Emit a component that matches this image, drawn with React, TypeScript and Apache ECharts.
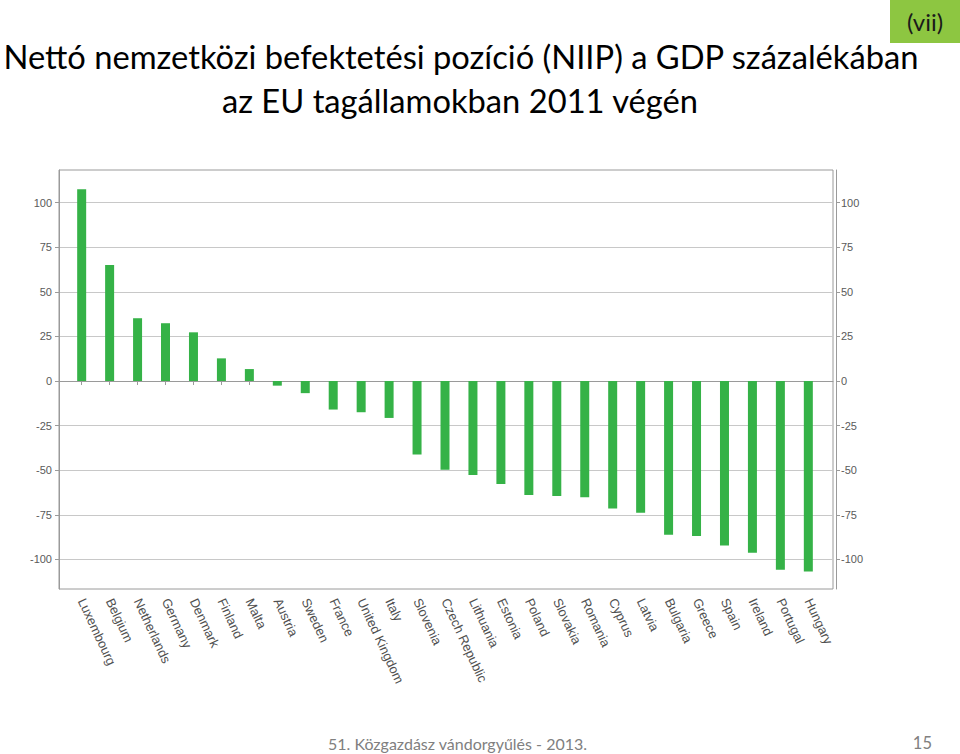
import React, { useEffect, useRef } from "react";
import * as echarts from "echarts";

const categories = [
  "Luxembourg", "Belgium", "Netherlands", "Germany", "Denmark", "Finland", "Malta",
  "Austria", "Sweden", "France", "United Kingdom", "Italy", "Slovenia", "Czech Republic",
  "Lithuania", "Estonia", "Poland", "Slovakia", "Romania", "Cyprus", "Latvia",
  "Bulgaria", "Greece", "Spain", "Ireland", "Portugal", "Hungary",
];
const niipValues = [
  107.5, 65.1, 35.2, 32.4, 27.3, 12.7, 6.7,
  -2.6, -6.8, -16.0, -17.5, -20.7, -41.2, -49.8,
  -52.7, -57.8, -63.9, -64.5, -65.1, -71.5, -73.8,
  -86.2, -86.9, -92.2, -96.3, -105.8, -106.8,
];
const yTicks = [-100, -75, -50, -25, 0, 25, 50, 75, 100];
const Y_MIN = -116.6;
const Y_MAX = 118.3;

const titleLine1 = "Nettó nemzetközi befektetési pozíció (NIIP) a GDP százalékában";
const titleLine2 = "az EU tagállamokban 2011 végén";
const badgeText = "(vii)";
const footerText = "51. Közgazdász vándorgyűlés - 2013.";
const pageNumber = "15";

const TITLE_FONT = "Lato, 'Open Sans', sans-serif";
const AXIS_FONT = "'Liberation Sans', Arial, sans-serif";

export default function App() {
  const ref = useRef<HTMLDivElement>(null);

  useEffect(() => {
    if (!ref.current) return;
    const chart = echarts.init(ref.current, null, { renderer: "svg" });
    const axisLabelStyle = { fontFamily: AXIS_FONT, fontSize: 11, color: "#5a5a5a" };
    chart.setOption({
      animation: false,
      backgroundColor: "#ffffff",
      grid: [
        { left: 59, right: 127, top: 170, bottom: 165, show: true, borderColor: "#9a9a9a", borderWidth: 1, backgroundColor: "transparent" },
        { left: 67.7, right: 137.7, top: 170, bottom: 165 },
      ],
      xAxis: [
        {
          type: "value", gridIndex: 0, min: 0, max: 1, position: "bottom", offset: 5,
          axisLine: { show: true, lineStyle: { color: "#9a9a9a", width: 1 } },
          axisTick: { show: false }, axisLabel: { show: false }, splitLine: { show: false },
        },
        {
          type: "category", gridIndex: 1, data: categories, position: "bottom", offset: 5,
          axisLine: { show: false },
          axisTick: { show: true, alignWithLabel: true, length: 4, lineStyle: { color: "#9a9a9a" } },
          axisLabel: { fontFamily: AXIS_FONT, fontSize: 13, color: "#505050", interval: 0, rotate: -65, margin: 5 },
          splitLine: { show: false },
        },
      ],
      yAxis: [
        {
          type: "value", gridIndex: 0, position: "left", offset: 4, min: Y_MIN, max: Y_MAX,
          axisLine: { show: true, lineStyle: { color: "#9a9a9a", width: 1 } },
          axisTick: { show: true, length: 4, customValues: yTicks, lineStyle: { color: "#9a9a9a" } },
          axisLabel: { ...axisLabelStyle, margin: 3, customValues: yTicks },
          splitLine: { show: true, lineStyle: { color: "#c8c8c8", width: 1 } },
        },
        {
          type: "value", gridIndex: 0, position: "right", offset: 3, min: Y_MIN, max: Y_MAX,
          axisLine: { show: true, lineStyle: { color: "#9a9a9a", width: 1 } },
          axisTick: { show: true, length: 4, customValues: yTicks, lineStyle: { color: "#9a9a9a" } },
          axisLabel: { ...axisLabelStyle, margin: 5, customValues: yTicks },
          splitLine: { show: false },
        },
        {
          type: "value", gridIndex: 1, min: Y_MIN, max: Y_MAX, show: false,
          splitLine: { show: false },
        },
      ],
      series: [
        {
          type: "bar", xAxisIndex: 1, yAxisIndex: 2, data: niipValues, barWidth: 9,
          itemStyle: { color: "#35b247" },
        },
      ],
      graphic: [
        { type: "rect", shape: { x: 890, y: 0, width: 70, height: 43 }, style: { fill: "#8dc641" }, z: 10 },
        {
          type: "text", x: 925, y: 21, z: 11,
          style: { text: badgeText, fontFamily: TITLE_FONT, fontSize: 24, fill: "#1a1a1a", align: "center", verticalAlign: "middle" },
        },
        {
          type: "text", x: 461, y: 56, z: 11,
          style: { text: titleLine1, fontFamily: TITLE_FONT, fontSize: 32.7, fill: "#000", align: "center", verticalAlign: "middle" },
        },
        {
          type: "text", x: 460, y: 100, z: 11,
          style: { text: titleLine2, fontFamily: TITLE_FONT, fontSize: 32.7, fill: "#000", align: "center", verticalAlign: "middle" },
        },
        {
          type: "text", x: 328, y: 743, z: 11,
          style: { text: footerText, fontFamily: TITLE_FONT, fontSize: 16, fill: "#808080", align: "left", verticalAlign: "middle" },
        },
        {
          type: "text", x: 932, y: 743, z: 11,
          style: { text: pageNumber, fontFamily: TITLE_FONT, fontSize: 16.5, fill: "#808080", align: "right", verticalAlign: "middle" },
        },
      ],
    });
    return () => chart.dispose();
  }, []);

  return (
    <div
      ref={ref}
      style={{ position: "absolute", left: 0, top: 0, width: 960, height: 754, background: "#fff" }}
    />
  );
}
